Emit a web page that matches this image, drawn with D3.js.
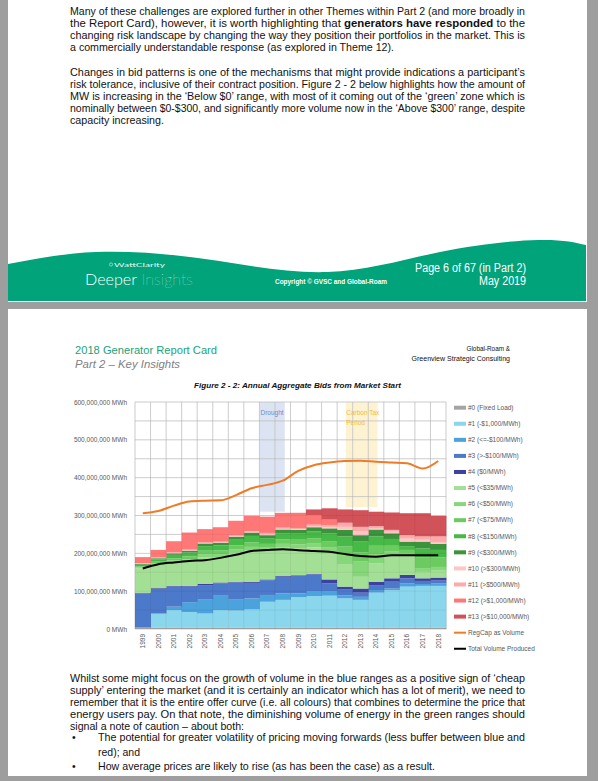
<!DOCTYPE html>
<html>
<head>
<meta charset="utf-8">
<script src="https://cdn.jsdelivr.net/npm/d3@7"></script>
<style>
  body { margin: 0; background: #fff; }
  svg { display: block; }
</style>
</head>
<body>
<svg id="doc" width="604" height="781"></svg>
<script>
// years on the x axis
const years = ["1999","2000","2001","2002","2003","2004","2005","2006","2007","2008",
               "2009","2010","2011","2012","2013","2014","2015","2016","2017","2018"];

// annual aggregate bids by price band, million MWh
const fixedLoad = [3,3,3,3,3,3,3,3,3,3,3,3,3,3,3,3,3,3,3,3];
const bid1  = [0,37,47,42,38,47,46,49,69,74,81,84,85,78,74,93,100,109,111,111];
const bid2  = [2,2,9,26,38,38,30,29,18,17,10,12,11,8,8,7,4,9,5,7];
const bid3  = [89,64,53,41,37,33,44,41,39,44,46,45,22,15,11,13,18,13,8,7];
const bid4  = [2,2,2,2,3,2,2,3,2,2,2,2,10,8,11,9,9,9,7,8];
const bid5  = [64,62,62,63,71,66,76,82,75,75,72,70,70,58,31,48,57,50,17,20];
const bid6  = [3,4,5,7,8,9,10,10,9,10,10,11,14,24,40,25,15,8,10,8];
const bid7  = [3,4,6,8,9,10,10,12,10,12,12,13,16,24,25,22,14,8,28,25];
const bid8  = [4,6,9,10,12,13,15,17,15,16,16,18,22,27,28,25,18,10,24,20];
const bid9  = [2,3,4,5,7,7,8,9,8,10,10,11,13,17,17,18,15,12,18,16];
const bid10 = [1,1,1,1,1,1,1,2,3,2,2,3,4,8,10,4,4,8,5,5];
const bid11 = [1,1,2,2,2,2,2,2,3,3,3,4,5,10,12,4,4,8,8,14];
const bid12 = [16,20,29,45,35,38,39,40,43,39,38,25,14,1,0,1,1,1,1,1];
const bid13 = [0,0,0,0,0,0,0,0,0,0,2,15,30,35,44,38,46,58,61,54];

// lines, million MWh
const regCap = [306,312,326,337,339,340,354,372,381,392,418,433,440,444,445,442,440,438,424,444];
const totalProduced = [160,171,176,180,182,188,196,206,209,211,208,206,204,198,193,191,195,195,195,195];

const bandNames = ["#0 (Fixed Load)","#1 (-$1,000/MWh)","#2 (<=-$100/MWh)","#3 (>-$100/MWh)","#4 ($0/MWh)",
  "#5 (<$35/MWh)","#6 (<$50/MWh)","#7 (<$75/MWh)","#8 (<$150/MWh)","#9 (<$300/MWh)",
  "#10 (>$300/MWh)","#11 (>$500/MWh)","#12 (>$1,000/MWh)","#13 (>$10,000/MWh)"];
const bandValues = [fixedLoad,bid1,bid2,bid3,bid4,bid5,bid6,bid7,bid8,bid9,bid10,bid11,bid12,bid13];
const bandColors = ["#a5a5a5","#8ad6ec","#4ba2dc","#4c79c9","#3d42a2",
  "#a3df95","#86d67a","#6bcb60","#46b946","#3b933c",
  "#ffc6c6","#ffaaaa","#ff7878","#d2525a"];

// shaded periods (fractional years)
const periods = [
  {label: ["Drought"], from: 2007.0, to: 2008.63, floor: 310, color: "#dce4f3", text: "#6d8ccc"},
  {label: ["Carbon Tax", "Period"], from: 2012.55, to: 2014.6, floor: 322, color: "#fdf3d2", text: "#f3b944"}
];

const svg = d3.select("#doc");

// ---------- pages ----------
svg.append("rect").attr("width", 598).attr("height", 781).attr("fill", "#9e9e9e");
svg.append("rect").attr("x", 8).attr("y", 0).attr("width", 579).attr("height", 302).attr("fill", "#fff");
svg.append("rect").attr("x", 8).attr("y", 309).attr("width", 579).attr("height", 467).attr("fill", "#fff");

const bodyFont = "'Liberation Sans Narrow','Arial Narrow','Liberation Sans',Arial,sans-serif";

function textLine(x, y, width, parts, size, opts) {
  opts = opts || {};
  const t = svg.append("text")
    .attr("x", x).attr("y", y)
    .attr("font-family", opts.family || bodyFont)
    .attr("font-size", size)
    .attr("fill", opts.fill || "#111")
    .attr("text-anchor", opts.anchor || "start");
  if (opts.italic) t.attr("font-style", "italic");
  if (opts.bold) t.attr("font-weight", "bold");
  if (width) t.attr("textLength", width).attr("lengthAdjust", "spacingAndGlyphs");
  if (typeof parts === "string") parts = [[parts, false]];
  parts.forEach(p => {
    const s = t.append("tspan").text(p[0]);
    if (p[1]) s.attr("font-weight", "bold");
  });
  return t;
}

// top page text
const para1 = [
  [[["Many of these challenges are explored further in other Themes within Part 2 (and more broadly in", false]], 455],
  [[["the Report Card), however, it is worth highlighting that ", false], ["generators have responded", true], [" to the", false]], 455],
  [[["changing risk landscape by changing the way they position their portfolios in the market.  This is", false]], 455],
  [[["a commercially understandable response (as explored in Theme 12).", false]], 324]
];
para1.forEach((l, i) => textLine(70, 15 + i * 12, l[1], l[0], 10.5));

const para2 = [
  ["Changes in bid patterns is one of the mechanisms that might provide indications a participant\u2019s", 455],
  ["risk tolerance, inclusive of their contract position.  Figure 2 - 2 below highlights how the amount of", 455],
  ["MW is increasing in the \u2018Below $0\u2019 range, with most of it coming out of the \u2018green\u2019 zone which is", 455],
  ["nominally between $0-$300, and significantly more volume now in the \u2018Above $300\u2019 range, despite", 455],
  ["capacity increasing.", 94]
];
para2.forEach((l, i) => textLine(70, 76 + i * 12.1, l[1], l[0], 10.5));

// footer wave
const wave = d3.line().curve(d3.curveNatural)([[8,264],[96,252],[205,259],[327,272],[440,252],[538,240],[586,245]]);
svg.append("path").attr("d", wave + "L586,301L8,301Z").attr("fill", "#00a37a");
svg.append("circle").attr("cx", 111).attr("cy", 264.5).attr("r", 1.6).attr("fill", "none").attr("stroke", "#fff").attr("stroke-width", 0.5);
textLine(114, 266.8, 51, "WattClarity", 6, {fill: "#e8f7f1", family: "Lato, sans-serif"});
svg.append("text").attr("x", 85).attr("y", 284.5).attr("font-family", "Lato, sans-serif")
  .attr("font-size", 15).attr("font-weight", 300).attr("fill", "#fff")
  .attr("textLength", 108).attr("lengthAdjust", "spacingAndGlyphs")
  .call(t => { t.append("tspan").text("Deeper"); t.append("tspan").attr("font-weight", 200).attr("opacity", 0.85).text(" Insights"); });
textLine(275, 284, 112, "Copyright \u00a9 GVSC and Global-Roam", 6.5, {fill: "#fff", bold: true, family: "'Liberation Sans',Arial,sans-serif"});
textLine(526, 271.5, 111, "Page 6 of 67 (in Part 2)", 12, {fill: "#fff", anchor: "end"});
textLine(526, 285, 47, "May 2019", 12, {fill: "#fff", anchor: "end"});

// second page header
textLine(75, 353.5, 142, "2018 Generator Report Card", 11.5, {fill: "#1ba37a"});
textLine(75, 367.5, 105, "Part 2 \u2013 Key Insights", 11.5, {fill: "#808080", italic: true});
textLine(510, 350.5, 43.5, "Global-Roam &", 8, {anchor: "end", family: "'Liberation Sans',Arial,sans-serif"});
textLine(510, 360.5, 98.5, "Greenview Strategic Consulting", 8, {anchor: "end", family: "'Liberation Sans',Arial,sans-serif"});
textLine(194, 387.5, 207, "Figure 2 - 2: Annual Aggregate Bids from Market Start", 7.5, {bold: true, italic: true, family: "'Liberation Sans',Arial,sans-serif"});

// ---------- chart ----------
const plotLeft = 135, plotRight = 446, plotTop = 402, plotBottom = 629;
const x = d3.scaleBand().domain(years).range([plotLeft, plotRight]).padding(0);
const xt = d3.scaleLinear().domain([1999, 2019]).range([plotLeft, plotRight]);
const y = d3.scaleLinear().domain([0, 600e6]).range([plotBottom, plotTop]);
const chart = svg.append("g");
const axisFont = "'Liberation Sans',Arial,sans-serif";

// shaded periods
periods.forEach(p => {
  chart.append("rect").attr("x", xt(p.from)).attr("width", xt(p.to) - xt(p.from))
    .attr("y", plotTop).attr("height", y(p.floor * 1e6) - plotTop).attr("fill", p.color);
});

// grid under stacks
const gridY = y.ticks(12);
const bounds = years.map(d => x(d)).concat([plotRight]);
function drawGrid(g, color, op) {
  g.selectAll(".h").data(gridY).join("line").attr("class", "h")
    .attr("x1", plotLeft).attr("x2", plotRight).attr("y1", d => y(d)).attr("y2", d => y(d))
    .attr("stroke", color).attr("stroke-opacity", op).attr("stroke-width", 0.8);
  g.selectAll(".v").data(bounds).join("line").attr("class", "v")
    .attr("x1", d => d).attr("x2", d => d).attr("y1", plotTop).attr("y2", plotBottom)
    .attr("stroke", color).attr("stroke-opacity", op).attr("stroke-width", 0.8);
}
drawGrid(chart.append("g"), "#cfcfcf", 1);

// stacked bands
const rows = years.map((yr, i) => {
  const r = {year: yr};
  bandValues.forEach((arr, k) => { r[k] = arr[i] * 1e6; });
  return r;
});
const stacked = d3.stack().keys(d3.range(bandValues.length))(rows);
chart.append("g").selectAll("g").data(stacked).join("g")
  .attr("fill", (d, i) => bandColors[i])
  .selectAll("rect").data(d => d).join("rect")
  .attr("x", d => x(d.data.year))
  .attr("width", x.bandwidth() + 0.4)
  .attr("y", d => y(d[1]))
  .attr("height", d => Math.max(0, y(d[0]) - y(d[1])));

// faint grid over stacks
drawGrid(chart.append("g"), "#000", 0.07);

// period labels
periods.forEach(p => {
  p.label.forEach((s, j) => {
    chart.append("text").attr("x", p.label.length > 1 ? xt(p.from) + 0.5 : (xt(p.from) + xt(p.to)) / 2)
      .attr("y", 415 + j * 9.5)
      .attr("text-anchor", p.label.length > 1 ? "start" : "middle")
      .attr("font-family", axisFont).attr("font-size", 6.5).attr("fill", p.text).text(s);
  });
});

// lines
const line = d3.line()
  .x((d, i) => x(years[i]) + x.bandwidth() / 2)
  .y(d => y(d * 1e6))
  .curve(d3.curveMonotoneX);
chart.append("path").attr("d", line(regCap)).attr("fill", "none").attr("stroke", "#f07a26").attr("stroke-width", 2);
chart.append("path").attr("d", line(totalProduced)).attr("fill", "none").attr("stroke", "#000").attr("stroke-width", 2);

// axes
const yAxis = chart.append("g").attr("transform", `translate(${plotLeft},0)`)
  .call(d3.axisLeft(y).ticks(6).tickSize(0).tickPadding(8).tickFormat(d => d3.format(",")(d) + " MWh"));
yAxis.select(".domain").remove();
yAxis.selectAll("text").attr("font-family", axisFont).attr("font-size", 6.5).attr("fill", "#595959");

const xAxis = chart.append("g").attr("transform", `translate(0,${plotBottom})`)
  .call(d3.axisBottom(x).tickSize(0).tickPadding(0));
xAxis.select(".domain").remove();
xAxis.selectAll("text")
  .attr("font-family", axisFont).attr("font-size", 6.5).attr("fill", "#595959")
  .attr("text-anchor", "end").attr("dy", "0.35em")
  .attr("transform", "translate(0,5) rotate(-90)");

// legend
const legendItems = bandNames.map((n, i) => ({name: n, color: bandColors[i], kind: "area"}))
  .concat([{name: "RegCap as Volume", color: "#f07a26", kind: "line"},
           {name: "Total Volume Produced", color: "#000", kind: "line"}]);
const lg = chart.append("g").selectAll("g").data(legendItems).join("g")
  .attr("transform", (d, i) => `translate(454,${407.7 + i * 16.07})`);
lg.append("rect").attr("x", 0).attr("width", 12)
  .attr("y", d => d.kind === "area" ? -2 : -1).attr("height", d => d.kind === "area" ? 4 : 2)
  .attr("fill", d => d.color);
lg.append("text").attr("x", 14).attr("dy", "0.35em")
  .attr("font-family", axisFont).attr("font-size", 6.5).attr("fill", "#595959")
  .text(d => d.name);

// bottom text
const para3 = [
  ["Whilst some might focus on the growth of volume in the blue ranges as a positive sign of \u2018cheap", 455],
  ["supply\u2019 entering the market (and it is certainly an indicator which has a lot of merit), we need to", 455],
  ["remember that it is the entire offer curve (i.e. all colours) that combines to determine the price that", 455],
  ["energy users pay.  On that note, the diminishing volume of energy in the green ranges should", 455],
  ["signal a note of caution \u2013 about both:", 174]
];
para3.forEach((l, i) => textLine(70, 682 + i * 11.9, l[1], l[0], 10.5));
textLine(72, 741, null, "\u2022", 10.5);
textLine(98, 741, 427, "The potential for greater volatility of pricing moving forwards (less buffer between blue and", 10.5);
textLine(98, 755.5, 42, "red); and", 10.5);
textLine(72, 770, null, "\u2022", 10.5);
textLine(98, 770, 337, "How average prices are likely to rise (as has been the case) as a result.", 10.5);
</script>
</body>
</html>
